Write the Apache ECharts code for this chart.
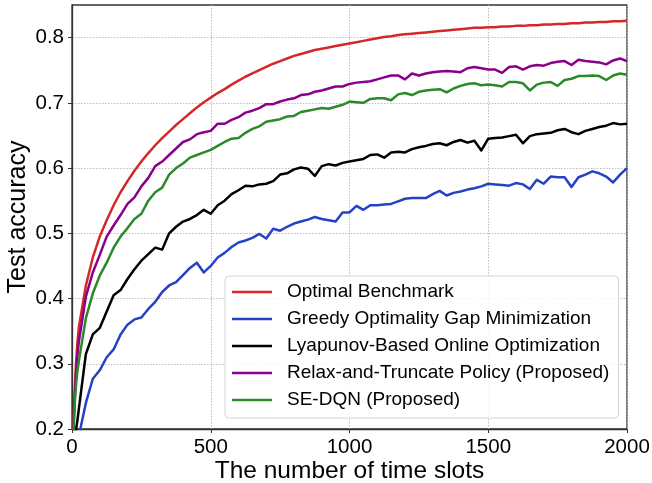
<!DOCTYPE html>
<html>
<head>
<meta charset="utf-8">
<script src="https://cdn.jsdelivr.net/npm/echarts@6/dist/echarts.min.js"></script>
<style>
  html, body { margin: 0; padding: 0; background: #fff; }
  #chart { width: 652px; height: 483px; }
</style>
</head>
<body>
<div id="chart"></div>
<script>
// Time-slot positions: fine steps at the start, then every 25 slots.
const earlySlots = [0, 5, 10, 15, 20];
const slots = earlySlots.slice();
for (let t = 25; t <= 2000; t += 25) slots.push(t);

const seriesNames = [
  'Optimal Benchmark',
  'Greedy Optimality Gap Minimization',
  'Lyapunov-Based Online Optimization',
  'Relax-and-Truncate Policy (Proposed)',
  'SE-DQN (Proposed)'
];

const optimalBenchmark = [
  0.14, 0.2, 0.262, 0.305, 0.335,
  0.357, 0.42, 0.463, 0.495, 0.52, 0.543, 0.563, 0.58,
  0.596, 0.61, 0.623, 0.635, 0.646, 0.656, 0.666, 0.675,
  0.684, 0.693, 0.701, 0.708, 0.715, 0.721, 0.728, 0.734,
  0.74, 0.745, 0.75, 0.755, 0.76, 0.764, 0.768, 0.772,
  0.775, 0.778, 0.781, 0.783, 0.785, 0.787, 0.789, 0.791,
  0.793, 0.795, 0.797, 0.799, 0.801, 0.802, 0.804, 0.805,
  0.806, 0.807, 0.808, 0.809, 0.81, 0.811, 0.812, 0.813,
  0.814, 0.815, 0.815, 0.816, 0.816, 0.817, 0.817, 0.818,
  0.818, 0.819, 0.819, 0.82, 0.82, 0.821, 0.821, 0.822,
  0.822, 0.823, 0.823, 0.824, 0.824, 0.825, 0.825, 0.826
];

const greedyGap = [
  0.05, 0.09, 0.12, 0.15, 0.17,
  0.19, 0.24, 0.277, 0.29, 0.31, 0.322, 0.345, 0.36,
  0.368, 0.371, 0.384, 0.395, 0.41, 0.42, 0.425, 0.436,
  0.447, 0.455, 0.44, 0.45, 0.463, 0.47, 0.479, 0.486,
  0.489, 0.493, 0.499, 0.492, 0.507, 0.504, 0.51, 0.515,
  0.518, 0.521, 0.525, 0.522, 0.52, 0.518, 0.532, 0.532,
  0.542, 0.536, 0.543, 0.543, 0.544, 0.545, 0.549, 0.553,
  0.554, 0.554, 0.554, 0.56, 0.565, 0.558, 0.562, 0.564,
  0.567, 0.569, 0.572, 0.576, 0.575, 0.574, 0.573, 0.577,
  0.575, 0.568, 0.582, 0.576, 0.587, 0.586, 0.586, 0.571,
  0.586, 0.59, 0.595, 0.592, 0.587, 0.578, 0.59, 0.6
];

const lyapunovOnline = [
  0.1, 0.15, 0.18, 0.2, 0.215,
  0.232, 0.315, 0.345, 0.355, 0.38, 0.405, 0.413, 0.43,
  0.445, 0.458, 0.468, 0.478, 0.475, 0.5, 0.51, 0.518,
  0.522, 0.528, 0.536, 0.53, 0.543, 0.55, 0.56, 0.566,
  0.573, 0.572, 0.575, 0.576, 0.58, 0.59, 0.592, 0.598,
  0.601, 0.599, 0.588, 0.603, 0.606, 0.604, 0.608, 0.61,
  0.612, 0.614, 0.62, 0.621, 0.616, 0.624, 0.625, 0.624,
  0.629, 0.632, 0.634, 0.637, 0.638, 0.635, 0.64, 0.643,
  0.639, 0.642, 0.627, 0.645, 0.646, 0.647, 0.649, 0.651,
  0.638, 0.649, 0.652, 0.653, 0.654, 0.658, 0.66, 0.655,
  0.652, 0.657, 0.66, 0.663, 0.665, 0.669, 0.667, 0.668
];

const relaxTruncate = [
  0.13, 0.2, 0.25, 0.29, 0.315,
  0.335, 0.403, 0.44, 0.467, 0.495, 0.512, 0.528, 0.545,
  0.555, 0.572, 0.585, 0.603, 0.61, 0.62, 0.63, 0.64,
  0.644, 0.652, 0.655, 0.657, 0.668, 0.668, 0.674, 0.678,
  0.685, 0.688, 0.692, 0.698, 0.698, 0.702, 0.705, 0.707,
  0.712, 0.713, 0.717, 0.719, 0.722, 0.725, 0.725, 0.729,
  0.731, 0.732, 0.733, 0.736, 0.739, 0.742, 0.742, 0.736,
  0.745, 0.742, 0.745, 0.747, 0.748, 0.749, 0.748, 0.747,
  0.753, 0.755, 0.753, 0.751, 0.751, 0.746, 0.755, 0.756,
  0.751, 0.756, 0.758, 0.757, 0.761, 0.763, 0.764, 0.758,
  0.766, 0.764, 0.763, 0.762, 0.759, 0.765, 0.768, 0.764
];

const seDqn = [
  0.12, 0.19, 0.24, 0.27, 0.29,
  0.305, 0.37, 0.408, 0.435, 0.455, 0.478, 0.495, 0.508,
  0.522, 0.53, 0.55, 0.563, 0.57, 0.59, 0.6, 0.607,
  0.616, 0.62, 0.624, 0.628, 0.634, 0.64, 0.645, 0.646,
  0.654, 0.66, 0.664, 0.671, 0.673, 0.675, 0.679, 0.68,
  0.686, 0.688, 0.69, 0.692, 0.691, 0.694, 0.697, 0.702,
  0.701, 0.7, 0.706, 0.707, 0.707, 0.704, 0.713, 0.715,
  0.712, 0.717, 0.719, 0.72, 0.721, 0.716, 0.722, 0.726,
  0.729, 0.73, 0.727, 0.728, 0.727, 0.725, 0.732, 0.732,
  0.73, 0.719, 0.728, 0.731, 0.732, 0.726, 0.735, 0.737,
  0.741, 0.741, 0.742, 0.741, 0.735, 0.742, 0.745, 0.743
];

const xTicks = [0, 500, 1000, 1500, 2000];
const yTicks = [0.2, 0.3, 0.4, 0.5, 0.6, 0.7, 0.8];

const seriesValues = [optimalBenchmark, greedyGap, lyapunovOnline, relaxTruncate, seDqn];
const seriesColors = ['#d62728', '#2442c6', '#000000', '#8b008b', '#2a8a2a'];

const FONT = 'Liberation Sans, Arial, Helvetica, sans-serif';
const AXIS_COLOR = '#333';

const chart = echarts.init(document.getElementById('chart'), null, { renderer: 'canvas' });

const option = {
  animation: false,
  backgroundColor: '#fff',
  textStyle: { fontFamily: FONT },
  grid: {
    left: 72, right: 25, top: 5, bottom: 54,
    containLabel: false,
    outerBoundsMode: 'none',
    show: true, borderColor: AXIS_COLOR, borderWidth: 1.3, backgroundColor: 'transparent'
  },
  legend: {
    orient: 'vertical',
    left: 225, top: 276,
    padding: [5, 9, 7, 7],
    itemGap: 5,
    itemWidth: 40, itemHeight: 2.5,
    icon: 'rect',
    backgroundColor: 'rgba(255,255,255,0.85)',
    borderColor: '#d4d4d4', borderWidth: 1, borderRadius: 4,
    textStyle: { fontFamily: FONT, fontSize: 19, color: '#000', lineHeight: 22, padding: [0, 0, 0, 10] },
    data: seriesNames
  },
  xAxis: {
    type: 'value',
    min: xTicks[0], max: xTicks[xTicks.length - 1], interval: 500,
    name: 'The number of time slots',
    nameLocation: 'middle', nameGap: 30,
    nameMoveOverlap: false,
    nameTextStyle: { fontFamily: FONT, fontSize: 24.5, color: '#000' },
    axisLine: { show: true, lineStyle: { color: AXIS_COLOR, width: 1.3 } },
    axisTick: { show: true, inside: false, length: 4, lineStyle: { color: AXIS_COLOR, width: 1 } },
    axisLabel: { fontFamily: FONT, fontSize: 20.5, color: '#000', margin: 8, formatter: v => String(v) },
    splitLine: { show: true, lineStyle: { color: '#bdbdbd', width: 1, type: [1.5, 1.5] } }
  },
  yAxis: {
    type: 'value',
    min: 0.2, max: 0.85, interval: 0.1,
    name: 'Test accuracy',
    nameLocation: 'middle', nameGap: 41,
    nameMoveOverlap: false,
    nameTextStyle: { fontFamily: FONT, fontSize: 25, color: '#000' },
    axisLine: { show: true, lineStyle: { color: AXIS_COLOR, width: 1.3 } },
    axisTick: { show: true, inside: false, length: 4, customValues: yTicks, lineStyle: { color: AXIS_COLOR, width: 1 } },
    axisLabel: {
      fontFamily: FONT, fontSize: 20.5, color: '#000', margin: 8,
      customValues: yTicks,
      formatter: v => v.toFixed(1)
    },
    splitLine: { show: true, lineStyle: { color: '#bdbdbd', width: 1, type: [1.5, 1.5] } }
  },
  series: seriesNames.map((name, i) => ({
    name,
    type: 'line',
    data: slots.map((t, k) => [t, seriesValues[i][k]]),
    showSymbol: false,
    symbol: 'none',
    clip: true,
    z: 2 + i,
    color: seriesColors[i],
    lineStyle: { color: seriesColors[i], width: 2.5, join: 'round' },
    itemStyle: { color: seriesColors[i] }
  }))
};

chart.setOption(option);
</script>
</body>
</html>
